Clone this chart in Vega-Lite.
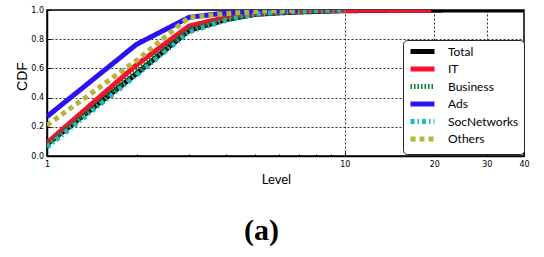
{
  "$schema": "https://vega.github.io/schema/vega-lite/v6.json",
  "width": 477,
  "height": 146,
  "autosize": {"type": "none"},
  "padding": {"left": 47, "top": 10, "right": 20, "bottom": 101},
  "background": "white",
  "config": {
    "view": {"stroke": "black", "strokeWidth": 1.5},
    "font": "Lato"
  },
  "title": {
    "text": "(a)",
    "orient": "bottom",
    "font": "Liberation Serif",
    "fontSize": 30,
    "fontWeight": "bold",
    "color": "black",
    "anchor": "middle",
    "dx": -24,
    "offset": 30
  },
  "data": {
    "values": [
      {"Series": "Total", "Level": 1, "CDF": 0.08},
      {"Series": "Total", "Level": 2, "CDF": 0.565},
      {"Series": "Total", "Level": 3, "CDF": 0.86},
      {"Series": "Total", "Level": 4, "CDF": 0.935},
      {"Series": "Total", "Level": 5, "CDF": 0.97},
      {"Series": "Total", "Level": 6, "CDF": 0.98},
      {"Series": "Total", "Level": 7, "CDF": 0.986},
      {"Series": "Total", "Level": 8, "CDF": 0.99},
      {"Series": "Total", "Level": 10, "CDF": 0.995},
      {"Series": "Total", "Level": 15, "CDF": 0.998},
      {"Series": "Total", "Level": 20, "CDF": 0.999},
      {"Series": "Total", "Level": 30, "CDF": 1.0},
      {"Series": "Total", "Level": 40, "CDF": 1.0},
      {"Series": "IT", "Level": 1, "CDF": 0.09},
      {"Series": "IT", "Level": 2, "CDF": 0.625},
      {"Series": "IT", "Level": 3, "CDF": 0.89},
      {"Series": "IT", "Level": 4, "CDF": 0.95},
      {"Series": "IT", "Level": 5, "CDF": 0.975},
      {"Series": "IT", "Level": 6, "CDF": 0.985},
      {"Series": "IT", "Level": 7, "CDF": 0.99},
      {"Series": "IT", "Level": 8, "CDF": 0.994},
      {"Series": "IT", "Level": 10, "CDF": 0.997},
      {"Series": "IT", "Level": 15, "CDF": 0.999},
      {"Series": "IT", "Level": 19.5, "CDF": 1.0},
      {"Series": "Business", "Level": 1, "CDF": 0.08},
      {"Series": "Business", "Level": 2, "CDF": 0.58},
      {"Series": "Business", "Level": 3, "CDF": 0.87},
      {"Series": "Business", "Level": 4, "CDF": 0.94},
      {"Series": "Business", "Level": 5, "CDF": 0.972},
      {"Series": "Business", "Level": 6, "CDF": 0.985},
      {"Series": "Business", "Level": 8, "CDF": 0.995},
      {"Series": "Business", "Level": 10, "CDF": 1.0},
      {"Series": "Ads", "Level": 1, "CDF": 0.27},
      {"Series": "Ads", "Level": 2, "CDF": 0.765},
      {"Series": "Ads", "Level": 3, "CDF": 0.95},
      {"Series": "Ads", "Level": 4, "CDF": 0.98},
      {"Series": "Ads", "Level": 5, "CDF": 0.99},
      {"Series": "Ads", "Level": 6, "CDF": 0.996},
      {"Series": "Ads", "Level": 7, "CDF": 1.0},
      {"Series": "SocNetworks", "Level": 1, "CDF": 0.06},
      {"Series": "SocNetworks", "Level": 2, "CDF": 0.555},
      {"Series": "SocNetworks", "Level": 3, "CDF": 0.85},
      {"Series": "SocNetworks", "Level": 4, "CDF": 0.93},
      {"Series": "SocNetworks", "Level": 5, "CDF": 0.97},
      {"Series": "SocNetworks", "Level": 6, "CDF": 0.985},
      {"Series": "SocNetworks", "Level": 8, "CDF": 0.995},
      {"Series": "SocNetworks", "Level": 10, "CDF": 1.0},
      {"Series": "Others", "Level": 1, "CDF": 0.21},
      {"Series": "Others", "Level": 2, "CDF": 0.655},
      {"Series": "Others", "Level": 3, "CDF": 0.95},
      {"Series": "Others", "Level": 4, "CDF": 0.975},
      {"Series": "Others", "Level": 5, "CDF": 0.99},
      {"Series": "Others", "Level": 6, "CDF": 0.996},
      {"Series": "Others", "Level": 7, "CDF": 1.0}
    ]
  },
  "layer": [
    {
      "mark": {"type": "line", "clip": true, "strokeWidth": 5},
      "encoding": {
        "x": {
          "field": "Level",
          "type": "quantitative",
          "scale": {"type": "log", "domain": [1, 40]},
          "axis": {
            "values": [1, 2, 3, 4, 5, 6, 7, 8, 9, 10, 20, 30, 40],
            "labelExpr": "(datum.value==1||datum.value==10||datum.value==20||datum.value==30||datum.value==40) ? format(datum.value,'d') : ''",
            "labelFont": "DejaVu Sans",
            "labelFontSize": 8,
            "labelColor": "black",
            "labelPadding": 8,
            "labelFlush": false,
            "labelOverlap": false,
            "domainColor": "black",
            "domainWidth": 1.5,
            "tickColor": "black",
            "tickSize": {"condition": {"test": "datum.value==1||datum.value==10||datum.value==20||datum.value==30||datum.value==40", "value": -4}, "value": -2},
            "grid": true,
            "gridColor": "#333",
            "gridDash": [2, 2],
            "gridOpacity": {"condition": {"test": "datum.value==10||datum.value==20||datum.value==30", "value": 1}, "value": 0},
            "title": "Level",
            "titleFont": "Lato",
            "titleFontSize": 13,
            "titleFontWeight": "normal",
            "titleColor": "black",
            "titleX": 229,
            "titleY": 27,
            "titleBaseline": "alphabetic"
          }
        },
        "y": {
          "field": "CDF",
          "type": "quantitative",
          "scale": {"domain": [0, 1]},
          "axis": {
            "values": [0, 0.2, 0.4, 0.6, 0.8, 1.0],
            "format": ".1f",
            "labelFont": "DejaVu Sans",
            "labelFontSize": 8,
            "labelColor": "black",
            "labelPadding": 7.5,
            "labelFlush": false,
            "domainColor": "black",
            "domainWidth": 1.5,
            "tickColor": "black",
            "tickSize": -4,
            "grid": true,
            "gridColor": "#333",
            "gridDash": [2, 2],
            "title": "CDF",
            "titleFont": "Liberation Sans",
            "titleFontSize": 14,
            "titleFontWeight": "normal",
            "titleColor": "black",
            "titleX": -25,
            "titleY": 66,
            "titleBaseline": "middle"
          }
        },
        "color": {
          "field": "Series",
          "type": "nominal",
          "sort": ["Total", "IT", "Business", "Ads", "SocNetworks", "Others"],
          "scale": {
            "domain": ["Total", "IT", "Business", "Ads", "SocNetworks", "Others"],
            "range": ["#000000", "#fa102e", "#0b7a2a", "#2a12f5", "#1cbcbc", "#b5b53a"]
          },
          "legend": {
            "orient": "none",
            "legendX": 356,
            "legendY": 30,
            "title": null,
            "padding": 5,
            "strokeColor": "#222",
            "fillColor": "white",
            "cornerRadius": 4,
            "labelFont": "Lato",
            "labelFontSize": 12,
            "labelColor": "black",
            "symbolType": "M-3,0H3",
            "symbolSize": 64,
            "symbolStrokeWidth": 5,
            "symbolOffset": 8,
            "labelOffset": 19,
            "rowPadding": -3.5
          }
        },
        "strokeDash": {
          "field": "Series",
          "type": "nominal",
          "sort": ["Total", "IT", "Business", "Ads", "SocNetworks", "Others"],
          "scale": {
            "domain": ["Total", "IT", "Business", "Ads", "SocNetworks", "Others"],
            "range": [[1, 0], [1, 0], [1.5, 2], [1, 0], [4, 3, 1.5, 3], [5, 4]]
          },
          "legend": {
            "orient": "none",
            "legendX": 356,
            "legendY": 30,
            "title": null,
            "symbolType": "M-3,0H3",
            "symbolSize": 64
          }
        }
      }
    }
  ]
}
